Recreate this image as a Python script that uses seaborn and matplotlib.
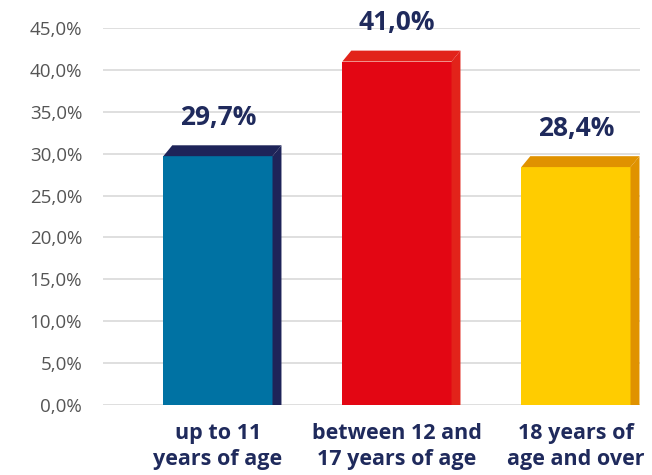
import numpy as np
import pandas as pd
import matplotlib
matplotlib.use('Agg')
import matplotlib.pyplot as plt
import seaborn as sns
from matplotlib.patches import Polygon

categories = ['up to 11\nyears of age', 'between 12 and\n17 years of age', '18 years of\nage and over']
values     = [29.7, 41.0, 28.4]
labels     = ['29,7%', '41,0%', '28,4%']
frontColors = ['#0072A3', '#E30613', '#FFCC00']
sideColors  = ['#1E2459', '#E2231A', '#E09200']
yTicks     = [0, 5, 10, 15, 20, 25, 30, 35, 40, 45]

navy = '#1F2A5C'

sns.set_style('white')
plt.rcParams['font.family'] = ['Open Sans', 'DejaVu Sans']

df = pd.DataFrame({'category': categories, 'value': values})

fig = plt.figure(figsize=(6.52, 4.75), dpi=100)
ax = fig.add_axes([103 / 652, 1 - 405 / 475, 537 / 652, 377 / 475])

barWidth = 0.61
sns.barplot(data=df, x='category', y='value', hue='category', palette=frontColors,
            width=barWidth, legend=False, ax=ax, zorder=3, saturation=1,
            linewidth=0, edgecolor='none')

dx, dy = 0.05, 1.3
for i, v in enumerate(values):
    x0 = i - barWidth / 2
    x1 = i + barWidth / 2
    top = Polygon([(x0, v), (x0 + dx, v + dy), (x1 + dx, v + dy), (x1, v)],
                  closed=True, facecolor=sideColors[i], edgecolor='none', zorder=3)
    side = Polygon([(x1, 0), (x1, v), (x1 + dx, v + dy), (x1 + dx, 0)],
                   closed=True, facecolor=sideColors[i], edgecolor='none', zorder=3)
    ax.add_patch(top)
    ax.add_patch(side)
    ax.text(i, v + 4.6, labels[i], ha='center', va='center', fontsize=19,
            fontweight='bold', color=navy, clip_on=False)

ax.set_xlim(-0.642, 2.358)
ax.set_ylim(0, 45)
ax.set_yticks(yTicks)
ax.set_yticklabels([f'{t:.1f}%'.replace('.', ',') for t in yTicks], fontsize=13.5, color='#555555')
ax.tick_params(axis='y', length=0, pad=15)
ax.tick_params(axis='x', length=0, pad=13)
for t in ax.get_xticklabels():
    t.set_fontsize(15.5)
    t.set_fontweight('bold')
    t.set_color(navy)
    t.set_linespacing(1.3)
ax.set_xlabel('')
ax.set_ylabel('')
ax.yaxis.grid(True, color='#D9D9D9', linewidth=1.2, zorder=0)
ax.set_axisbelow(True)
for s in ax.spines.values():
    s.set_visible(False)

plt.savefig('out.png', dpi=100)
plt.close()
